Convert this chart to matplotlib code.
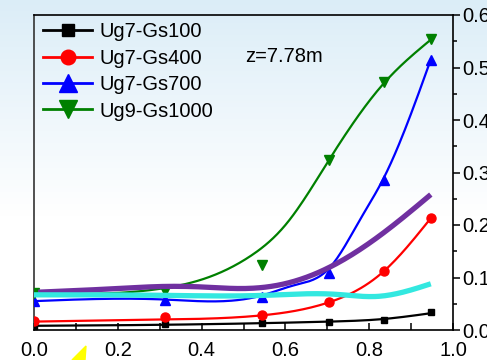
import numpy as np
import matplotlib
matplotlib.use("Agg")
import matplotlib.pyplot as plt
from matplotlib.ticker import MultipleLocator, FormatStrFormatter
from matplotlib.patches import Polygon

plt.rcParams['font.family'] = ['Liberation Sans', 'DejaVu Sans']

# ---- data ----
x_pts = [0.0, 0.313, 0.545, 0.705, 0.835, 0.947]
gs100_pts = [0.008, 0.012, 0.014, 0.015, 0.019, 0.034]
gs400_pts = [0.018, 0.0245, 0.028, 0.053, 0.112, 0.213]
gs700_pts = [0.055, 0.057, 0.062, 0.108, 0.286, 0.515]
gs1000_pts = [0.07, 0.075, 0.123, 0.324, 0.473, 0.554]

# fitted curves (knots)
gs100_fit_x = [0.0, 0.313, 0.545, 0.705, 0.835, 0.947]
gs100_fit_y = [0.008, 0.010, 0.013, 0.016, 0.021, 0.032]
gs400_fit_x = [0.0, 0.313, 0.545, 0.705, 0.835, 0.947]
gs400_fit_y = [0.016, 0.020, 0.028, 0.053, 0.112, 0.213]
gs700_fit_x = [0.0, 0.313, 0.545, 0.62, 0.705, 0.778, 0.835, 0.947]
gs700_fit_y = [0.055, 0.058, 0.066, 0.085, 0.118, 0.21, 0.29, 0.515]
gs1000_fit_x = [0.0, 0.313, 0.4, 0.515, 0.6, 0.705, 0.835, 0.947]
gs1000_fit_y = [0.070, 0.080, 0.096, 0.14, 0.2, 0.325, 0.47, 0.553]

purple_x = [0.01, 0.2, 0.313, 0.4, 0.5, 0.58, 0.68, 0.834, 0.947]
purple_y = [0.072, 0.079, 0.083, 0.082, 0.079, 0.085, 0.11, 0.185, 0.258]
cyan_x = [0.0, 0.313, 0.55, 0.72, 0.82, 0.947]
cyan_y = [0.067, 0.066, 0.066, 0.068, 0.064, 0.088]

labels = ['Ug7-Gs100', 'Ug7-Gs400', 'Ug7-Gs700', 'Ug9-Gs1000']
annot = 'z=7.78m'
x_ticks = [0.0, 0.2, 0.4, 0.6, 0.8, 1.0]
y_ticks = [0.0, 0.1, 0.2, 0.3, 0.4, 0.5, 0.6]


def smooth(xk, yk, n=200):
    """Natural cubic spline through knots (rendering only)."""
    x = np.asarray(xk, float)
    y = np.asarray(yk, float)
    m = len(x)
    h = np.diff(x)
    A = np.zeros((m, m))
    b = np.zeros(m)
    A[0, 0] = A[-1, -1] = 1
    for i in range(1, m - 1):
        A[i, i - 1] = h[i - 1]
        A[i, i] = 2 * (h[i - 1] + h[i])
        A[i, i + 1] = h[i]
        b[i] = 3 * ((y[i + 1] - y[i]) / h[i] - (y[i] - y[i - 1]) / h[i - 1])
    c = np.linalg.solve(A, b)
    xs = np.linspace(x[0], x[-1], n)
    idx = np.clip(np.searchsorted(x, xs) - 1, 0, m - 2)
    dx = xs - x[idx]
    bb = (y[idx + 1] - y[idx]) / h[idx] - h[idx] * (2 * c[idx] + c[idx + 1]) / 3
    dd = (c[idx + 1] - c[idx]) / (3 * h[idx])
    ys = y[idx] + bb * dx + c[idx] * dx ** 2 + dd * dx ** 3
    return xs, ys


W, H = 487, 360
fig = plt.figure(figsize=(W / 100, H / 100), dpi=100)

# background gradient
bg = fig.add_axes([0, 0, 1, 1], zorder=-10)
grad = np.linspace(0, 1, 360)
top = np.array([0.86, 0.93, 0.97])
white = np.array([1.0, 1.0, 1.0])
t = np.clip(grad / 0.6, 0, 1)[:, None]
img = top * (1 - t) + white * t
img = np.repeat(img[:, None, :], 2, axis=1)
bg.imshow(img, aspect='auto', extent=[0, 1, 0, 1], origin='upper')
bg.set_axis_off()
bg.add_patch(Polygon([[72 / W, 1 - 360 / H], [86 / W, 1 - 346 / H], [85 / W, 1 - 360 / H]],
                     closed=True, color='#ffff00', transform=bg.transAxes))

ax = fig.add_axes([34 / W, 30 / H, 419 / W, 315 / H])
ax.patch.set_alpha(0)

colors = ['black', '#ff0000', '#0000ff', '#008000']
markers = ['s', 'o', '^', 'v']
msizes = [4.5, 6.5, 7.5, 7.5]
leg_msizes = [8, 10.5, 13, 13]
pts = [gs100_pts, gs400_pts, gs700_pts, gs1000_pts]
fits = [(gs100_fit_x, gs100_fit_y), (gs400_fit_x, gs400_fit_y),
        (gs700_fit_x, gs700_fit_y), (gs1000_fit_x, gs1000_fit_y)]

handles = []
for c, mk, ms, lms, p, (fx, fy), lab in zip(colors, markers, msizes, leg_msizes, pts, fits, labels):
    sx, sy = smooth(fx, fy)
    ax.plot(sx, sy, color=c, lw=1.6, zorder=3)
    ax.plot(x_pts, p, ls='none', marker=mk, ms=ms, color=c, zorder=3)
    h, = ax.plot([], [], color=c, lw=2.0, marker=mk, ms=lms, label=lab)
    handles.append(h)

px, py = smooth(purple_x, purple_y)
ax.plot(px, py, color='#7030a0', lw=3.8, zorder=4, solid_capstyle='butt')
cx, cy = smooth(cyan_x, cyan_y)
ax.plot(cx, cy, color='#33e8e0', lw=3.8, zorder=4, solid_capstyle='butt')

ax.set_xlim(0, 1)
ax.set_ylim(0, 0.6)
ax.set_xticks(x_ticks)
ax.set_yticks(y_ticks)
ax.xaxis.set_minor_locator(MultipleLocator(0.1))
ax.yaxis.set_minor_locator(MultipleLocator(0.05))
ax.xaxis.set_major_formatter(FormatStrFormatter('%.1f'))
ax.yaxis.set_major_formatter(FormatStrFormatter('%.1f'))
ax.yaxis.tick_right()
ax.tick_params(axis='x', which='both', direction='in', top=False, labelsize=14.5, pad=8, width=1.1)
ax.tick_params(axis='x', which='major', length=5)
ax.tick_params(axis='x', which='minor', length=5)
ax.tick_params(axis='y', which='both', direction='out', left=False, right=True, labelsize=14.5, pad=2, width=1.1)
ax.tick_params(axis='y', which='major', length=5)
ax.tick_params(axis='y', which='minor', length=3)
for s in ax.spines.values():
    s.set_linewidth(1.2)
ax.spines['left'].set_color('#333333')

leg = ax.legend(handles=handles, loc='upper left', bbox_to_anchor=(0.012, 0.99), frameon=False,
                fontsize=14.5, handlelength=2.45, handletextpad=0.35, labelspacing=0.37,
                borderaxespad=0.1, borderpad=0.1)
ax.text(245 / W, 1 - 57 / H, annot, transform=fig.transFigure, fontsize=14.5, va='center', ha='left')

fig.savefig('out.png', dpi=100)
